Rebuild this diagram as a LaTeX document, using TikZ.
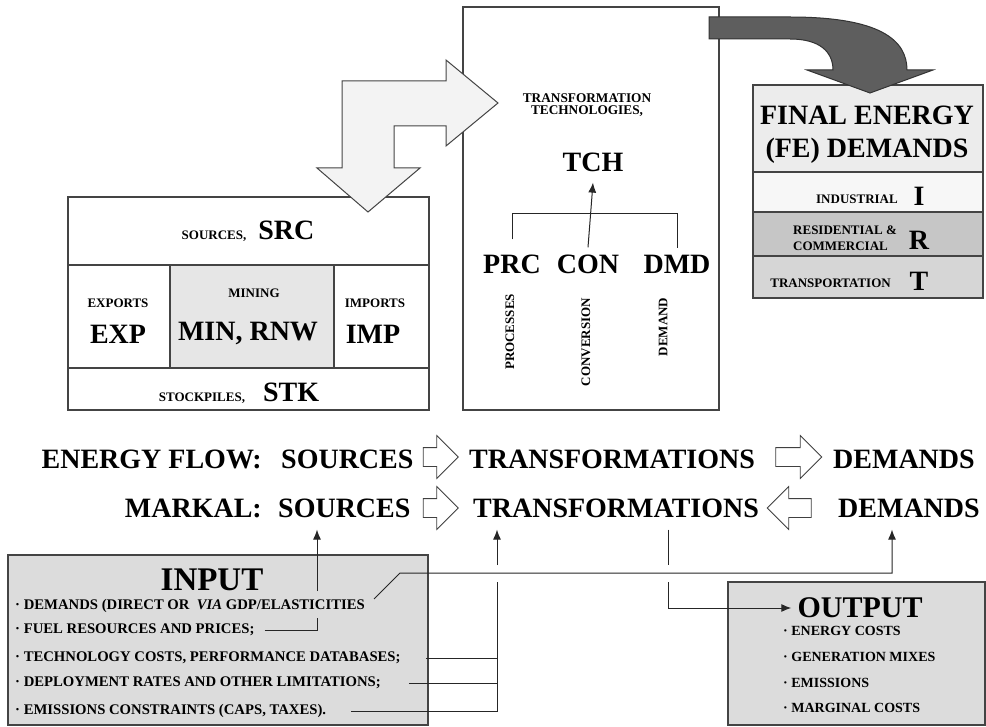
\documentclass[tikz,border=0pt]{standalone}
\usepackage{fontspec}
\setmainfont{Liberation Serif}
\usetikzlibrary{arrows.meta,positioning,shapes.arrows,calc}

\definecolor{linegray}{HTML}{444444}
\definecolor{minefill}{HTML}{E6E6E6}
\definecolor{fetop}{HTML}{ECECEC}
\definecolor{indfill}{HTML}{F7F7F7}
\definecolor{resfill}{HTML}{C6C6C6}
\definecolor{trnfill}{HTML}{D6D6D6}
\definecolor{iofill}{HTML}{DCDCDC}
\definecolor{paler}{HTML}{F3F3F3}
\definecolor{darkarrow}{HTML}{5E5E5E}

\newcommand\bigtxt{\fontsize{28}{32}\selectfont\bfseries}
\newcommand\captxt{\fontsize{13}{13}\selectfont\bfseries}
\newcommand\listtxt{\fontsize{14.7}{16}\selectfont\bfseries}

\begin{document}
\begin{tikzpicture}[x=1pt,y=-1pt,
 cell/.style={draw=linegray,line width=1.1pt,inner sep=0pt},
 big/.style={font=\bigtxt,inner sep=0pt},
 tag/.style={font=\captxt,inner sep=0pt,align=center},
 item/.style={font=\listtxt,inner sep=0pt,anchor=west},
 flow/.style={-{Latex[length=10pt,width=8pt]},draw=black!85,line width=1pt},
 link/.style={draw=black!85,line width=1pt},
 hollow/.style={single arrow,draw=black!75,fill=white,line width=.8pt,minimum height=35pt,minimum width=0pt,inner xsep=0pt,inner ysep=9pt,single arrow head extend=12pt}
]
\path[use as bounding box,fill=white] (0,0) rectangle (986,727);

\node[cell,minimum width=361pt,minimum height=68pt] (srcrow) at (248.5,231) {};
\node[cell,minimum width=102pt,minimum height=103pt] (expcell) at (119,316.5) {};
\node[cell,fill=minefill,minimum width=164pt,minimum height=103pt] (mincell) at (252,316.5) {};
\node[cell,minimum width=95pt,minimum height=103pt] (impcell) at (381.5,316.5) {};
\node[cell,minimum width=361pt,minimum height=42pt] (stkrow) at (248.5,389) {};
\node[inner sep=0pt] (srclbl) at (248,231) {{\captxt SOURCES,}\hspace{12pt}{\bigtxt SRC}};
\node[tag] (explbl) at (118,303) {EXPORTS};
\node[big] (exp) at (118,334) {EXP};
\node[tag] (minlbl) at (254,293) {MINING};
\node[big] (minrnw) at (248,334) {MIN, RNW};
\node[tag] (implbl) at (375,303) {IMPORTS};
\node[big] (imp) at (373,334) {IMP};
\node[inner sep=0pt] (stklbl) at (239,393) {{\captxt STOCKPILES,}\hspace{18pt}{\bigtxt STK}};

\node[cell,minimum width=256pt,minimum height=403pt] (tchbox) at (591,208.5) {};
\node[tag,font=\fontsize{13.3}{12.5}\selectfont\bfseries] (tchttl) at (587,105) {TRANSFORMATION\\TECHNOLOGIES,};
\node[big] (tch) at (593,162) {TCH};
\node[big] (prc) at (512,264) {PRC};
\node[big] (con) at (588,264) {CON};
\node[big] (dmd) at (677,264) {DMD};
\node[tag,rotate=90] (procs) at (510,332) {PROCESSES};
\node[tag,rotate=90] (conv) at (586,342) {CONVERSION};
\node[tag,rotate=90] (dmnd) at (663,327) {DEMAND};
\draw[link] ([yshift=15pt]prc.north) |- ([yshift=41pt]con.north) -| ([yshift=7pt]dmd.north);
\draw[flow] ([yshift=7pt]con.north) -- ([yshift=-11pt]tch.south);

\node[cell,fill=fetop,minimum width=230pt,minimum height=87pt] (fettl) at (868,128.5) {};
\node[cell,fill=indfill,minimum width=230pt,minimum height=40pt] (indrow) at (868,192) {};
\node[cell,fill=resfill,minimum width=230pt,minimum height=44pt] (resrow) at (868,234) {};
\node[cell,fill=trnfill,minimum width=230pt,minimum height=42pt] (trnrow) at (868,277) {};
\node[big,align=center,font=\fontsize{28}{33}\selectfont\bfseries] (fetxt) at (867,135) {FINAL ENERGY\\(FE) DEMANDS};
\node[tag,anchor=east] (indlbl) at (898,199) {INDUSTRIAL};
\node[big] (indI) at (919,196) {I};
\node[tag,align=left,anchor=west,font=\fontsize{13}{16}\selectfont\bfseries] (reslbl) at (793,238) {RESIDENTIAL \&\\COMMERCIAL};
\node[big] (resR) at (919,240) {R};
\node[tag,anchor=east] (trnlbl) at (891,283) {TRANSPORTATION};
\node[big] (trnT) at (919,281) {T};

\filldraw[fill=paler,draw=linegray,line width=1pt] (368,212) -- (420,168) -- (394,168) -- (394,126) -- (446,126) -- (446,146) -- (498,103) -- (446,60) -- (446,81) -- (342,81) -- (342,168) -- (317,168) -- cycle;
\filldraw[fill=darkarrow,draw=black!80,line width=1pt] (709,17) -- (790,17) .. controls (880,17) and (907,40) .. (907,70) -- (933,70) -- (870,93) -- (807,70) -- (833,70) .. controls (833,52) and (820,39) .. (790,39) -- (709,39) -- cycle;

\node[big,anchor=east] (eflow) at (262,459) {ENERGY FLOW:};
\node[big,anchor=west] (src1) at (281,459) {SOURCES};
\node[hollow] (fw1) at (436,457) {};
\node[big,anchor=west] (tf1) at (469,459) {TRANSFORMATIONS};
\node[hollow,minimum height=46pt] (fw2) at (794,457) {};
\node[big,anchor=west] (dm1) at (833,459) {DEMANDS};
\node[big,anchor=east] (markal) at (262,508) {MARKAL:};
\node[big,anchor=west] (src2) at (278,508) {SOURCES};
\node[hollow] (fw3) at (436,508) {};
\node[big,anchor=west] (tf2) at (473,508) {TRANSFORMATIONS};
\node[hollow,minimum height=44pt,shape border rotate=180] (bw4) at (794,508) {};
\node[big,anchor=west] (dm2) at (838,508) {DEMANDS};

\node[cell,fill=iofill,minimum width=420pt,minimum height=170pt] (inbox) at (218,640) {};
\node[inner sep=0pt,font=\fontsize{33}{33}\selectfont\bfseries] (inhd) at (212,580) {INPUT};
\node[item] (in1) at (15,606) {· DEMANDS (DIRECT OR\enspace\textit{VIA} GDP/ELASTICITIES};
\node[item] (in2) at (15,630) {· FUEL RESOURCES AND PRICES;};
\node[item] (in3) at (15,658) {· TECHNOLOGY COSTS,\ PERFORMANCE DATABASES;};
\node[item] (in4) at (15,683) {· DEPLOYMENT RATES AND OTHER LIMITATIONS;};
\node[item] (in5) at (15,711) {· EMISSIONS CONSTRAINTS (CAPS, TAXES).};

\node[cell,fill=iofill,minimum width=257pt,minimum height=143pt] (outbox) at (856.5,653.5) {};
\node[inner sep=0pt,font=\fontsize{30}{30}\selectfont\bfseries] (outhd) at (860,608) {OUTPUT};
\node[item,font=\fontsize{14}{16}\selectfont\bfseries] (out1) at (783,631) {· ENERGY COSTS};
\node[item,font=\fontsize{14}{16}\selectfont\bfseries] (out2) at (783,657) {· GENERATION MIXES};
\node[item,font=\fontsize{14}{16}\selectfont\bfseries] (out3) at (783,683) {· EMISSIONS};
\node[item,font=\fontsize{14}{16}\selectfont\bfseries] (out4) at (783,708) {· MARGINAL COSTS};

\coordinate (fuelup) at (317,618);
\coordinate (srcfoot) at (317,591);
\coordinate (bus) at (497,711);
\coordinate (hopA) at (497,572);
\coordinate (hopB) at (668,572);
\coordinate (dmfoot) at (892,572);
\draw[link] ([xshift=10pt]in2.east) -| (fuelup);
\draw[flow] (srcfoot) -- ($(src2.south -| srcfoot)+(0,12)$);
\draw[link] ([xshift=25pt]in5.east) -- (bus) -- ($(hopA)+(0,10)$);
\draw[link] ([xshift=25pt]in3.east) -- (in3.east -| bus);
\draw[link] ([xshift=28pt]in4.east) -- (in4.east -| bus);
\draw[flow] ($(hopA)+(0,-7)$) -- ($(tf2.south -| hopA)+(0,12)$);
\draw[link] ($(tf2.south -| hopB)+(0,12)$) -- ($(hopB)+(0,-7)$);
\draw[flow] ($(hopB)+(0,10)$) |- ([xshift=-6pt]outhd.west);
\draw[flow] ([xshift=9pt,yshift=7pt]in1.east) -- ++(26,-26) -| ($(dm2.south -| dmfoot)+(0,12)$);
\end{tikzpicture}
\end{document}
